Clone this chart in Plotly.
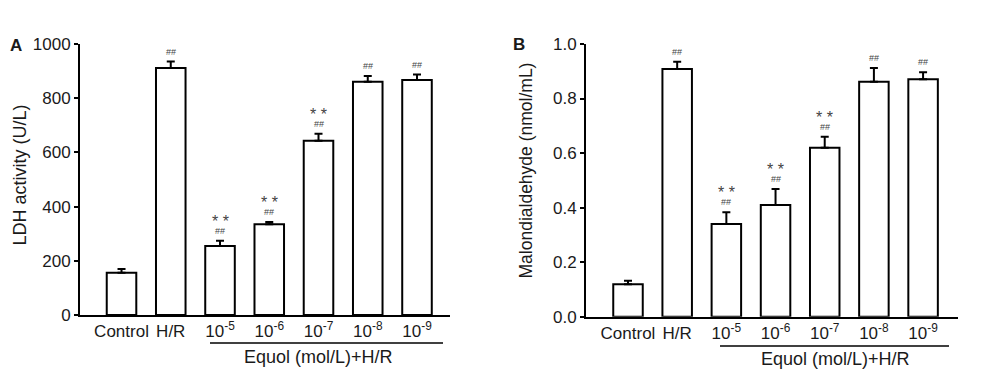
import plotly.graph_objects as go

categories = ["Control", "H/R", "10^-5", "10^-6", "10^-7", "10^-8", "10^-9"]
tick_labels = ["Control", "H/R", "10<sup>-5</sup>", "10<sup>-6</sup>",
               "10<sup>-7</sup>", "10<sup>-8</sup>", "10<sup>-9</sup>"]

ldh_mean = [156, 911, 255, 335, 643, 861, 867]
ldh_err = [14, 24, 19, 8, 26, 21, 20]
ldh_marks = ["", "##", "**<br>##", "**<br>##", "**<br>##", "##", "##"]

mda_mean = [0.119, 0.908, 0.340, 0.410, 0.620, 0.862, 0.871]
mda_err = [0.013, 0.027, 0.043, 0.058, 0.040, 0.050, 0.025]
mda_marks = ["", "##", "**<br>##", "**<br>##", "**<br>##", "##", "##"]

ldh_ticks = [0, 200, 400, 600, 800, 1000]
mda_ticks = [0.0, 0.2, 0.4, 0.6, 0.8, 1.0]

FONT = "Liberation Sans, Arial, sans-serif"
TXT = "#1a1a1a"

# page has an 8px body margin; map page pixels to paper fractions
OFF = 8
W, H = 976, 383
def px(X):
    return (X - OFF) / W
def py(Y):
    return 1 - (Y - OFF) / H

fig = go.Figure()

def add_panel(means, errs, xa, ya):
    fig.add_trace(go.Bar(
        x=categories, y=means, xaxis=xa, yaxis=ya,
        width=0.6,
        marker=dict(color="white", line=dict(color="black", width=2)),
        error_y=dict(type="data", symmetric=False, array=errs,
                     arrayminus=[0] * len(errs), color="black",
                     thickness=2, width=4),
        showlegend=False, hoverinfo="skip",
    ))

add_panel(ldh_mean, ldh_err, "x", "y")
add_panel(mda_mean, mda_err, "x2", "y2")

axis_common = dict(showline=True, linecolor="black", linewidth=2,
                   showgrid=False, zeroline=False, automargin=False,
                   tickfont=dict(family=FONT, size=17, color=TXT))

fig.update_layout(
    width=W, height=H,
    margin=dict(l=0, r=0, t=0, b=0),
    paper_bgcolor="white", plot_bgcolor="white",
    xaxis=dict(domain=[px(80), px(450)], type="category",
               range=[-0.843, 6.67], tickmode="array",
               tickvals=categories, ticktext=tick_labels,
               ticks="", anchor="y", **axis_common),
    yaxis=dict(domain=[py(315), py(44)], range=[0, 1000],
               tickvals=ldh_ticks, ticks="outside", ticklen=4,
               tickwidth=2, tickcolor="black", anchor="x", **axis_common),
    xaxis2=dict(domain=[px(586), px(958)], type="category",
                range=[-0.854, 6.71], tickmode="array",
                tickvals=categories, ticktext=tick_labels,
                ticks="", anchor="y2", **axis_common),
    yaxis2=dict(domain=[py(316.7), py(44)], range=[0, 1.0],
                tickvals=mda_ticks, tickformat=".1f", ticks="outside",
                ticklen=4, tickwidth=2, tickcolor="black", anchor="x2",
                **axis_common),
)

annots = []
for xa, ya, means, errs, marks in [("x", "y", ldh_mean, ldh_err, ldh_marks),
                                   ("x2", "y2", mda_mean, mda_err, mda_marks)]:
    for i, (m, e, mk) in enumerate(zip(means, errs, marks)):
        if not mk:
            continue
        parts = mk.split("<br>")
        annots.append(dict(x=i, y=m + e, xref=xa, yref=ya, text="##",
                           showarrow=False, yanchor="bottom", yshift=3,
                           font=dict(family=FONT, size=9, color="#444")))
        if "**" in parts:
            annots.append(dict(x=i, y=m + e, xref=xa, yref=ya, text="* *",
                               showarrow=False, yanchor="bottom", yshift=9,
                               font=dict(family=FONT, size=16, color="#444")))

def label(X, Y, text, size, angle=0):
    return dict(x=px(X), y=py(Y), xref="paper", yref="paper", text=text,
                textangle=angle, showarrow=False, xanchor="center",
                yanchor="middle", font=dict(family=FONT, size=size, color=TXT))

annots += [
    label(19, 175.5, "LDH activity (U/L)", 18, -90),
    label(526, 170.5, "Malondialdehyde (nmol/mL)", 17.5, -90),
    label(16, 45, "<b>A</b>", 17),
    label(519, 44, "<b>B</b>", 17),
    label(318, 357, "Equol (mol/L)+H/R", 18),
    label(835, 359, "Equol (mol/L)+H/R", 18),
]
fig.update_layout(annotations=annots)

fig.add_shape(type="line", xref="paper", yref="paper",
              x0=px(210), x1=px(443), y0=py(343), y1=py(343),
              line=dict(color="black", width=1.5))
fig.add_shape(type="line", xref="paper", yref="paper",
              x0=px(720), x1=px(949), y0=py(346), y1=py(346),
              line=dict(color="black", width=1.5))

fig.write_html("out.html")
